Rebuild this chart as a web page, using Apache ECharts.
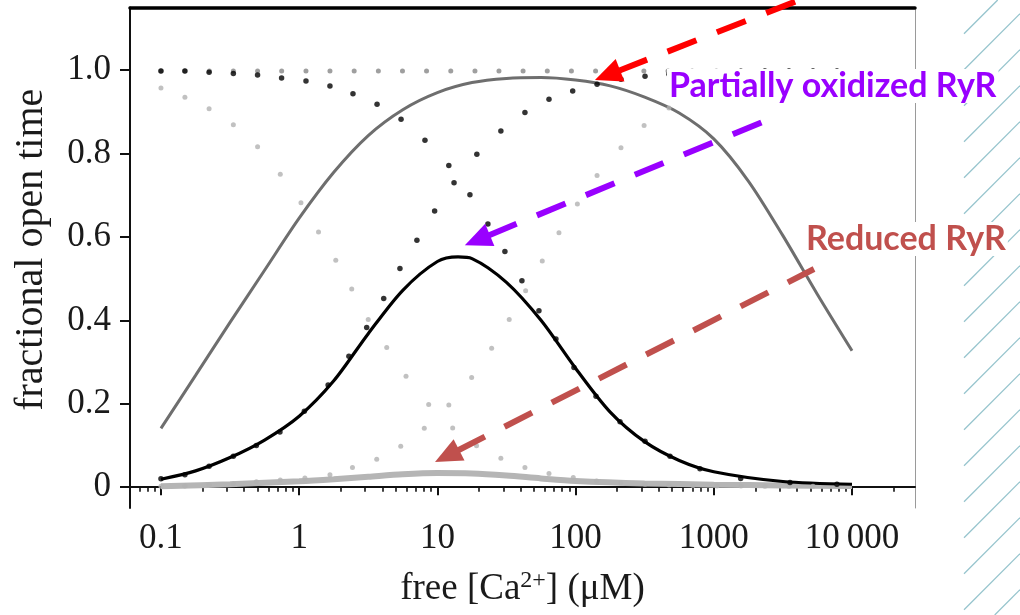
<!DOCTYPE html>
<html><head><meta charset="utf-8">
<script src="https://cdn.jsdelivr.net/npm/echarts@6/dist/echarts.min.js"></script>
<style>html,body{margin:0;padding:0;background:#fff}#c{width:1020px;height:615px}</style>
</head><body><div id="c"></div>
<script>
// ---- axis ticks / labels ----
const xMajorTicks = [0.1, 1, 10, 100, 1000, 10000];
const xTickLabels = ['0.1', '1', '10', '100', '1000', '10\u2009000'];
const xMinorTicks = [0.07, 0.08, 0.09, 0.2, 0.3, 0.4, 0.5, 0.6, 0.7, 0.8, 0.9,
  2, 3, 4, 5, 6, 7, 8, 9, 20, 30, 40, 50, 60, 70, 80, 90,
  200, 300, 400, 500, 600, 700, 800, 900, 2000, 3000, 4000, 5000, 6000, 7000, 8000, 9000, 20000];
const yTicks = [0, 0.2, 0.4, 0.6, 0.8, 1.0];
const yTickLabels = ['0', '0.2', '0.4', '0.6', '0.8', '1.0'];

// ---- solid curves (free Ca2+ in uM, fractional open time) ----
const grayCurveX = [0.1, 0.178, 0.316, 0.562, 1, 1.78, 3.16, 5.62, 10, 17.8, 31.6, 56.2, 100, 178, 316, 562, 1000, 1778, 3162, 5623, 10000];
const grayCurveY = [0.141, 0.268, 0.395, 0.52, 0.645, 0.755, 0.843, 0.905, 0.946, 0.97, 0.98, 0.982, 0.976, 0.962, 0.935, 0.897, 0.835, 0.734, 0.603, 0.462, 0.327];

const blackCurveX = [0.1, 0.178, 0.316, 0.562, 1, 1.78, 3.16, 5.62, 10, 14.1, 17.8, 31.6, 56.2, 100, 178, 316, 562, 1000, 3162, 10000];
const blackCurveY = [0.019, 0.039, 0.071, 0.113, 0.170, 0.255, 0.368, 0.472, 0.541, 0.552, 0.548, 0.491, 0.400, 0.285, 0.180, 0.109, 0.064, 0.037, 0.0135, 0.007];

const lightCurveX = [0.1, 0.316, 1, 1.78, 3.16, 5.62, 10, 17.8, 31.6, 56.2, 100, 316, 1000, 3162, 10000];
const lightCurveY = [0.002, 0.007, 0.014, 0.019, 0.025, 0.031, 0.034, 0.033, 0.028, 0.021, 0.015, 0.009, 0.006, 0.004, 0.003];

// ---- dotted components ----
const blackInactDots = [[0.1,0.998],[0.149,0.998],[0.223,0.995],[0.334,0.992],[0.5,0.988],[0.746,0.981],[1.12,0.974],[1.67,0.962],[2.45,0.943],[3.66,0.918],[5.46,0.882],[8.13,0.832],[12.1,0.771],[17.2,0.701],[23.2,0.631],[30.8,0.565],[40.9,0.495],[54.3,0.423],[72.1,0.355],[97.3,0.287],[140.5,0.218],[209.6,0.157],[318,0.11],[482,0.074],[794,0.044],[1565,0.021],[3560,0.011],[7780,0.007]];
const blackActDots = [[0.1,0.02],[0.149,0.03],[0.223,0.05],[0.334,0.074],[0.49,0.1],[0.726,0.132],[1.09,0.182],[1.62,0.245],[2.29,0.314],[3.08,0.383],[4.09,0.452],[5.36,0.524],[7.11,0.592],[9.55,0.662],[13.2,0.730],[19.3,0.798],[28.8,0.854],[43.0,0.898],[64.2,0.930],[95.3,0.950],[143,0.966],[213,0.978],[318,0.985],[474,0.990],[707,0.993],[1054,0.996],[1574,0.997],[2345,0.998],[3500,0.998],[5220,0.998],[7780,0.998]];
const grayTopDots = [[0.1,0.998],[0.149,0.998],[0.224,0.998],[0.334,0.998],[0.5,0.998],[0.747,0.998],[1.12,0.998],[1.67,0.998],[2.5,0.998],[3.74,0.998],[5.59,0.998],[8.35,0.998],[12.5,0.998],[18.7,0.998],[27.9,0.998],[41.7,0.998],[62.4,0.998],[93.3,0.998],[139.5,0.998],[208.6,0.998],[311.9,0.998],[466.4,0.998],[697.3,0.998],[1043,0.998],[1559,0.998],[2331,0.998],[3485,0.998],[5211,0.998],[7792,0.998]];
const lightInactDots = [[0.1,0.957],[0.149,0.935],[0.223,0.907],[0.334,0.869],[0.5,0.816],[0.73,0.750],[1.03,0.682],[1.38,0.612],[1.84,0.544],[2.40,0.475],[3.16,0.402],[4.30,0.335],[5.93,0.266],[8.65,0.198],[12.9,0.142],[19.2,0.099],[28.8,0.069],[43.0,0.047],[64.2,0.033],[96.2,0.023],[142,0.015],[212,0.010],[318,0.007],[474,0.005],[707,0.004],[1054,0.003],[1574,0.003],[2345,0.002],[3500,0.002],[5220,0.002],[7780,0.002]];
const lightActDots = [[0.1,0.002],[0.149,0.003],[0.223,0.005],[0.334,0.008],[0.49,0.013],[0.73,0.017],[1.1,0.022],[1.67,0.03],[2.43,0.047],[3.64,0.067],[5.43,0.098],[8.04,0.141],[12.1,0.197],[17.7,0.263],[24.7,0.333],[33.1,0.402],[43.5,0.471],[57.4,0.542],[75.8,0.610],[103,0.679],[143,0.747],[213,0.814],[313,0.867],[474,0.909],[707,0.936],[1054,0.957],[1574,0.971],[2345,0.981],[3500,0.987],[5220,0.990],[7780,0.993]];

// ---- annotation arrows: [tipX, tipY, tailX, tailY] in data units ----
const arrowRed = [138, 0.976, 5140, 1.18];
const arrowPurple = [15.8, 0.580, 2636, 0.885];
const arrowBrown = [9.61, 0.060, 5310, 0.523];
const labelPartial = 'Partially oxidized RyR';
const labelReduced = 'Reduced RyR';

const serif = "'Liberation Serif', 'DejaVu Serif', serif";
const X_MIN = 0.0597, X_MAX = 28560;

function pairs(xs, ys) { return xs.map((x, i) => [x, ys[i]]); }

function renderArrow(params, api) {
  const tip = api.coord([api.value(0), api.value(1)]);
  const tail = api.coord([api.value(2), api.value(3)]);
  const color = api.visual('color');
  const dx = tail[0] - tip[0], dy = tail[1] - tip[1];
  const len = Math.hypot(dx, dy), ux = dx / len, uy = dy / len;
  const headLen = 27, headW = 12;
  const bx = tip[0] + ux * headLen, by = tip[1] + uy * headLen;
  const nx = -uy, ny = ux;
  return {
    type: 'group',
    children: [
      { type: 'line', shape: { x1: bx - ux * 2, y1: by - uy * 2, x2: tail[0], y2: tail[1] },
        style: { stroke: color, lineWidth: 6, lineDash: [31, 22] } },
      { type: 'polygon', shape: { points: [tip, [bx + nx * headW, by + ny * headW], [bx - nx * headW, by - ny * headW]] },
        style: { fill: color } }
    ]
  };
}

// hatch decoration at right edge
const hatch = [];
for (let y0 = -2.3; y0 <= 615 + 60; y0 += 36) {
  let x1 = 964, y1 = y0, x2 = 1020, y2 = y0 - 56;
  if (y1 > 615) { x1 = 964 + (y1 - 615); y1 = 615; }
  if (y2 < 0) { x2 = 964 + y0; y2 = 0; }
  if (x2 <= x1) continue;
  hatch.push({ type: 'line', silent: true, z: 1, shape: { x1, y1, x2, y2 },
    style: { stroke: '#96c4cd', lineWidth: 1.3 } });
}

const chart = echarts.init(document.getElementById('c'), null, { renderer: 'canvas' });
const axisText = { fontFamily: serif, fontSize: 35, color: '#1a1a1a' };

chart.setOption({
  backgroundColor: '#fff',
  animation: false,
  grid: { left: 130, right: 105, top: 7.5, bottom: 107, containLabel: false, outerBoundsMode: 'none' },
  xAxis: [
    { type: 'log', min: X_MIN, max: X_MAX, position: 'bottom',
      name: 'free [Ca{sup|2+}] (\u03bcM)', nameLocation: 'middle', nameGap: 61,
      nameTextStyle: { fontFamily: serif, fontSize: 37, color: '#1a1a1a',
        rich: { sup: { fontFamily: serif, fontSize: 24, color: '#1a1a1a', verticalAlign: 'bottom', padding: [0, 0, 17, 0] } } },
      axisLine: { show: true, lineStyle: { color: '#111', width: 2 } },
      axisTick: { show: true, inside: false, length: 8, lineStyle: { color: '#111', width: 2 }, customValues: xMajorTicks },
      axisLabel: Object.assign({}, axisText, { margin: 13, customValues: xMajorTicks,
        formatter: v => { const i = xMajorTicks.findIndex(t => Math.abs(Math.log10(t) - Math.log10(v)) < 1e-6); return i >= 0 ? xTickLabels[i] : ''; } }),
      splitLine: { show: false }, minorTick: { show: false }, minorSplitLine: { show: false } },
    { type: 'log', min: X_MIN, max: X_MAX, position: 'bottom',
      axisLine: { show: false },
      axisTick: { show: true, inside: false, length: 4.5, lineStyle: { color: '#111', width: 1.6 }, customValues: xMinorTicks },
      axisLabel: { show: false }, splitLine: { show: false } },
    { type: 'log', min: X_MIN, max: X_MAX, position: 'top',
      axisLine: { show: true, lineStyle: { color: '#000', width: 3.5 } },
      axisTick: { show: false }, axisLabel: { show: false }, splitLine: { show: false } }
  ],
  yAxis: [
    { type: 'value', min: -0.05, max: 1.15, position: 'left',
      name: 'fractional open time', nameLocation: 'middle', nameGap: 79, nameRotate: 90,
      nameTextStyle: { fontFamily: serif, fontSize: 40, color: '#1a1a1a', padding: [0, 0, 0, 16] },
      axisLine: { show: true, lineStyle: { color: '#111', width: 2 } },
      axisTick: { show: true, inside: false, length: 10, lineStyle: { color: '#111', width: 2 }, customValues: yTicks },
      axisLabel: Object.assign({}, axisText, { margin: 19, customValues: yTicks,
        formatter: v => { const i = yTicks.findIndex(t => Math.abs(t - v) < 1e-6); return i >= 0 ? yTickLabels[i] : ''; } }),
      splitLine: { show: false } },
    { type: 'value', min: -0.05, max: 1.15, position: 'right',
      axisLine: { show: true, lineStyle: { color: '#9a9a9a', width: 1 } },
      axisTick: { show: false }, axisLabel: { show: false }, splitLine: { show: false } }
  ],
  series: [
    { type: 'line', name: 'light', data: pairs(lightCurveX, lightCurveY), smooth: 0.3, showSymbol: false, z: 2,
      lineStyle: { color: '#b5b5b5', width: 6 } },
    { type: 'line', name: 'gray', data: pairs(grayCurveX, grayCurveY), smooth: 0.3, showSymbol: false, z: 2,
      lineStyle: { color: '#6e6e6e', width: 3 } },
    { type: 'line', name: 'black', data: pairs(blackCurveX, blackCurveY), smooth: 0.3, showSymbol: false, z: 3,
      lineStyle: { color: '#000', width: 3.2 } },
    { type: 'scatter', data: lightInactDots, symbolSize: 5, itemStyle: { color: '#b2b2b2' }, z: 4 },
    { type: 'scatter', data: lightActDots, symbolSize: 5, itemStyle: { color: '#b2b2b2' }, z: 4 },
    { type: 'scatter', data: grayTopDots, symbolSize: 5, itemStyle: { color: '#878787' }, z: 5 },
    { type: 'scatter', data: blackInactDots, symbolSize: 5.5, itemStyle: { color: '#000' }, z: 6 },
    { type: 'scatter', data: blackActDots, symbolSize: 5.5, itemStyle: { color: '#000' }, z: 6 },
    { type: 'custom', renderItem: renderArrow, clip: false, z: 10,
      encode: { x: [0, 2], y: [1, 3] },
      data: [
        { value: arrowRed, itemStyle: { color: '#ff0000' } },
        { value: arrowPurple, itemStyle: { color: '#9900ff' } },
        { value: arrowBrown, itemStyle: { color: '#c0504d' } }
      ] }
  ],
  graphic: hatch.concat([
    { type: 'text', z: 20, x: 667, y: 86, style: { text: labelPartial, font: "bold 34px Lato, 'Open Sans', sans-serif", fill: '#9900ff', verticalAlign: 'middle', backgroundColor: '#fff', padding: [0, 2] } },
    { type: 'text', z: 20, x: 804, y: 239, style: { text: labelReduced, font: "bold 34px Lato, 'Open Sans', sans-serif", fill: '#c0504d', verticalAlign: 'middle', backgroundColor: '#fff', padding: [0, 2] } }
  ])
});
</script>
</body></html>
